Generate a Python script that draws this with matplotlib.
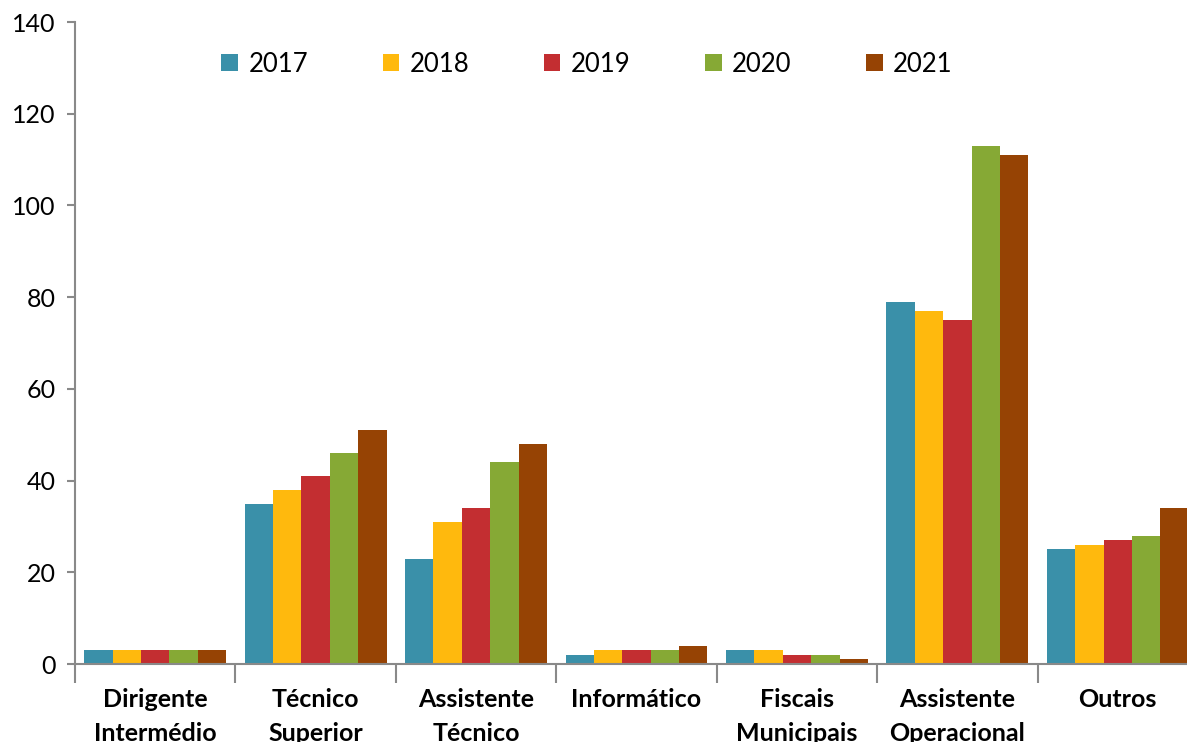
import matplotlib
matplotlib.use("Agg")
import matplotlib.pyplot as plt
import numpy as np
from matplotlib.ticker import FixedLocator, NullFormatter

plt.rcParams['font.family'] = ['Lato', 'DejaVu Sans']

categories = ["Dirigente\nIntermédio", "Técnico\nSuperior", "Assistente\nTécnico",
              "Informático", "Fiscais\nMunicipais", "Assistente\nOperacional", "Outros"]
years = ["2017", "2018", "2019", "2020", "2021"]
v2017 = [3, 35, 23, 2, 3, 79, 25]
v2018 = [3, 38, 31, 3, 3, 77, 26]
v2019 = [3, 41, 34, 3, 2, 75, 27]
v2020 = [3, 46, 44, 3, 2, 113, 28]
v2021 = [3, 51, 48, 4, 1, 111, 34]
series = [v2017, v2018, v2019, v2020, v2021]
colors = ["#3A90A9", "#FFB90D", "#C32E31", "#86A935", "#964304"]

fig = plt.figure(figsize=(11.87, 7.42), dpi=100)
ax = fig.add_axes([75/1187, 78/742, 1123/1187, 642/742])

x = np.arange(len(categories))
group = 0.885
w = group / len(series)
for i, (vals, c, y) in enumerate(zip(series, colors, years)):
    ax.bar(x - group/2 + w*(i+0.5), vals, width=w, color=c, label=y, linewidth=0)

ax.set_xlim(-0.5, len(categories) - 0.5)
ax.set_ylim(0, 140)
ax.set_yticks(range(0, 141, 20))
ax.tick_params(axis='y', labelsize=18, length=6, width=1.5, color='#898989', pad=8)

ax.xaxis.set_major_locator(FixedLocator(np.arange(-0.5, len(categories), 1.0)))
ax.xaxis.set_major_formatter(NullFormatter())
ax.xaxis.set_minor_locator(FixedLocator(x))
ax.set_xticklabels(categories, minor=True, fontsize=18, fontweight='bold', linespacing=1.6)
ax.tick_params(axis='x', which='major', length=14, width=1.5, color='#898989')
ax.tick_params(axis='x', which='minor', length=0, pad=17)

for s in ['top', 'right']:
    ax.spines[s].set_visible(False)
for s in ['left', 'bottom']:
    ax.spines[s].set_color('#898989')
    ax.spines[s].set_linewidth(1.5)

ax.legend(loc='upper center', bbox_to_anchor=(512/1123, 0.99), ncol=5, frameon=False,
          fontsize=18.5, handlelength=0.65, handleheight=0.65, handletextpad=0.4,
          columnspacing=2.9)

fig.savefig("out.png", dpi=100)
